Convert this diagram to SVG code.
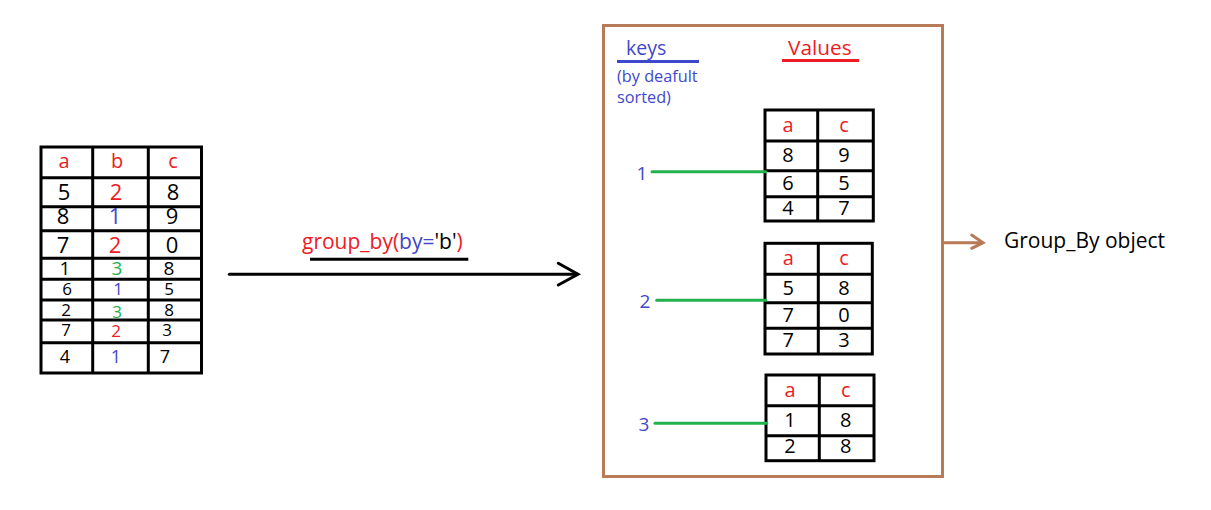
<svg xmlns="http://www.w3.org/2000/svg" width="1211" height="510" viewBox="0 0 1211 510">
<style>
text{font-family:"Open Sans","Liberation Sans",sans-serif;}
.c{text-anchor:middle;}
.r{fill:#ED1C24;}
.b{fill:#3F48CC;}
.g{fill:#22B14C;}
.k{fill:#000;}
.grid{fill:none;stroke:#000;stroke-width:3;}
.gl{stroke:#22B14C;stroke-width:3;}
</style>
<rect width="1211" height="510" fill="#fff"/>

<g id="source-table">
<rect class="grid" x="41" y="147" width="160.5" height="226"/>
<path class="grid" d="M92.7 147V373M148.3 147V373M41 177.7H201.5M41 206.7H201.5M41 230.7H201.5M41 258.3H201.5M41 279.3H201.5M41 300H201.5M41 320H201.5M41 342.7H201.5"/>
<g font-size="20" class="c">
<text x="64" y="168" class="r">a</text><text x="117" y="168" class="r">b</text><text x="173" y="168" class="r">c</text>
</g>
<g font-size="22" class="c">
<text x="64" y="200" class="k">5</text><text x="116" y="200" class="r">2</text><text x="173" y="200" class="k">8</text>
<text x="63" y="224" class="k">8</text><text x="115" y="224" class="b">1</text><text x="172" y="224" class="k">9</text>
<text x="63" y="252.5" class="k">7</text><text x="115" y="252.5" class="r">2</text><text x="172" y="252.5" class="k">0</text>
</g>
<g font-size="19" class="c">
<text x="65" y="275" class="k">1</text><text x="117" y="275" class="g">3</text><text x="169" y="275" class="k">8</text>
</g>
<g font-size="17" class="c">
<text x="67" y="295" class="k">6</text><text x="118" y="295" class="b">1</text><text x="169" y="295" class="k">5</text>
<text x="66" y="315.5" class="k">2</text><text x="117" y="317.5" class="g">3</text><text x="169" y="315.5" class="k">8</text>
<text x="66" y="335.5" class="k">7</text><text x="116" y="337" class="r">2</text><text x="167" y="335.5" class="k">3</text>
</g>
<g font-size="18" class="c">
<text x="65" y="362.5" class="k">4</text><text x="116" y="363" class="b">1</text><text x="165" y="362.5" class="k">7</text>
</g>
</g>

<g id="groupby-label">
<text x="302" y="248.5" font-size="21"><tspan class="r">group_by(</tspan><tspan class="b">by=</tspan><tspan class="k">'b'</tspan><tspan class="r">)</tspan></text>
<line x1="310" y1="259.3" x2="468.3" y2="259.3" stroke="#000" stroke-width="3"/>
</g>

<g id="groupby-object">
<rect x="603.5" y="25.5" width="339" height="451" fill="none" stroke="#B97A57" stroke-width="3"/>
<text x="626" y="55" font-size="19.5" class="b">keys</text>
<line x1="617" y1="61.5" x2="699" y2="61.5" stroke="#3F48CC" stroke-width="3"/>
<text x="617" y="81.5" font-size="16.3" class="b">(by deafult</text>
<text x="617" y="103" font-size="16.3" class="b">sorted)</text>
<text x="788" y="54.5" font-size="20.8" class="r">Values</text>
<line x1="782" y1="60.5" x2="859" y2="60.5" stroke="#ED1C24" stroke-width="3"/>
</g>

<g id="group-1">
<text x="642" y="179.5" font-size="19" class="b c">1</text>
<rect class="grid" x="765" y="110" width="108.3" height="111"/>
<path class="grid" d="M817.7 110V221M765 141H873.3M765 170.7H873.3M765 196.7H873.3"/>
<g font-size="20" class="c">
<text x="788" y="131.7" class="r">a</text><text x="844" y="131.7" class="r">c</text>
<text x="788" y="161.7" class="k">8</text><text x="844" y="161.7" class="k">9</text>
<text x="788" y="190" class="k">6</text><text x="844" y="190" class="k">5</text>
<text x="788" y="215" class="k">4</text><text x="844" y="215" class="k">7</text>
</g>
</g>

<g id="group-2">
<text x="645" y="308" font-size="19" class="b c">2</text>
<rect class="grid" x="765" y="243.3" width="107.3" height="110.7"/>
<path class="grid" d="M818.3 243.3V354M765 274.3H872.3M765 302.7H872.3M765 328.3H872.3"/>
<g font-size="20" class="c">
<text x="788.3" y="265" class="r">a</text><text x="844" y="265" class="r">c</text>
<text x="788.3" y="295" class="k">5</text><text x="844" y="295" class="k">8</text>
<text x="788.3" y="321.7" class="k">7</text><text x="844" y="321.7" class="k">0</text>
<text x="788.3" y="347.3" class="k">7</text><text x="844" y="347.3" class="k">3</text>
</g>
</g>

<g id="group-3">
<text x="644" y="431" font-size="19" class="b c">3</text>
<rect class="grid" x="766" y="375" width="108" height="85.7"/>
<path class="grid" d="M819.3 375V460.7M766 405.7H874M766 435.7H874"/>
<g font-size="20" class="c">
<text x="790" y="396.7" class="r">a</text><text x="845.7" y="396.7" class="r">c</text>
<text x="790" y="427.3" class="k">1</text><text x="845.7" y="427.3" class="k">8</text>
<text x="790" y="453.3" class="k">2</text><text x="845.7" y="453.3" class="k">8</text>
</g>
</g>

<g id="result-label">
<text x="1004" y="248" font-size="21" class="k">Group_By object</text>
</g>

<g id="connectors" fill="none" stroke-linecap="round" stroke-linejoin="miter">
<line x1="229.3" y1="274.3" x2="577" y2="274.3" stroke="#000" stroke-width="3"/>
<polyline points="558.3,263.3 578,274.3 558.3,285" stroke="#000" stroke-width="3"/>
<line class="gl" x1="652" y1="171.7" x2="765.7" y2="171.7"/>
<line class="gl" x1="656.7" y1="300.3" x2="765.7" y2="300.3"/>
<line class="gl" x1="655" y1="423.3" x2="766.7" y2="423.3"/>
<line x1="944" y1="242.7" x2="982" y2="242.7" stroke="#B97A57" stroke-width="3"/>
<polyline points="971.7,235 983,242.7 971.7,248.3" stroke="#B97A57" stroke-width="3"/>
</g>
</svg>
